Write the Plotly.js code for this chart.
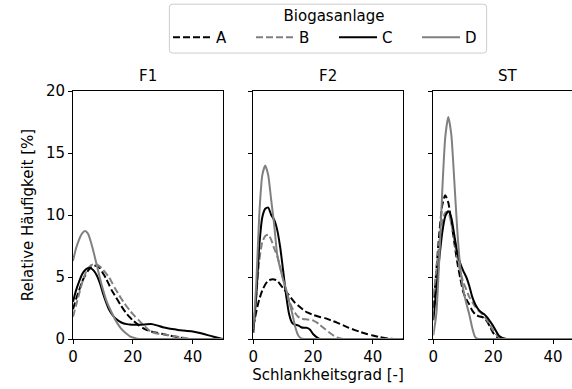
<!DOCTYPE html>
<html>
<head>
<meta charset="utf-8">
<script src="https://cdn.plot.ly/plotly-3.0.1.min.js"></script>
<style>
html,body{margin:0;padding:0;overflow:hidden;background:#fff;}
#chart{width:600px;height:389px;}
</style>
</head>
<body>
<div id="chart"></div>
<script>
// common x grid (Schlankheitsgrad)
const xGrid = [0,1,2,3,4,5,6,7,8,9,10,11,12,13,14,15,16,17,18,19,20,22,24,26,28,30,32,34,36,38,40,42,44,46,48,50];

const panels = ["F1", "F2", "ST"];
const seriesNames = ["A", "B", "C", "D"];

// F1
const F1_A = [2.4,3.2,3.9,4.6,5.1,5.5,5.8,5.9,5.9,5.7,5.3,4.9,4.4,3.9,3.5,3.1,2.7,2.35,2.0,1.75,1.5,1.1,0.8,0.62,0.5,0.4,0.3,0.2,0.1,0.03,0,0,0,0,0,0];
const F1_B = [1.8,2.7,3.6,4.5,5.2,5.7,5.95,6.05,6.0,5.85,5.6,5.3,5.0,4.55,4.1,3.7,3.3,2.95,2.6,2.3,2.0,1.5,1.0,0.6,0.45,0.38,0.3,0.22,0.13,0.05,0,0,0,0,0,0];
const F1_C = [3.0,3.9,4.6,5.2,5.55,5.7,5.7,5.5,5.1,4.5,3.7,3.0,2.4,2.0,1.7,1.5,1.35,1.25,1.2,1.17,1.15,1.15,1.17,1.2,1.1,0.95,0.85,0.78,0.7,0.65,0.6,0.5,0.38,0.25,0.12,0];
const F1_D = [6.3,7.3,8.0,8.5,8.7,8.5,7.8,6.9,5.9,4.9,4.0,3.2,2.6,2.1,1.6,1.2,0.85,0.6,0.4,0.22,0.12,0,0,0,0,0,0,0,0,0,0,0,0,0,0,0];

// F2
const F2_A = [1.0,2.2,3.2,3.9,4.4,4.7,4.8,4.8,4.7,4.4,4.1,3.8,3.5,3.2,2.9,2.7,2.5,2.3,2.15,2.05,1.95,1.8,1.68,1.5,1.32,1.12,0.9,0.72,0.55,0.4,0.28,0.17,0.08,0.03,0,0];
const F2_B = [0.8,3.5,6.3,7.8,8.3,8.4,8.0,7.3,6.7,5.8,4.8,3.9,3.1,2.5,2.1,1.8,1.65,1.6,1.58,1.55,1.5,1.2,0.8,0.42,0.12,0,0,0,0,0,0,0,0,0,0,0];
const F2_C = [0.5,3.5,7.5,9.8,10.5,10.6,10.0,9.6,8.8,7.4,5.5,3.5,2.0,1.3,1.15,1.1,0.95,0.9,0.9,0.75,0.4,0.03,0,0,0,0,0,0,0,0,0,0,0,0,0,0];
const F2_D = [0.8,4.5,10.0,13.2,14.0,13.2,11.2,9.2,6.8,5.7,4.8,4.0,3.0,2.1,1.0,0.3,0.05,0,0,0,0,0,0,0,0,0,0,0,0,0,0,0,0,0,0,0];

// ST
const ST_A = [2.5,5.5,8.5,10.8,11.6,11.0,9.5,7.8,6.2,4.9,3.8,3.2,2.8,2.3,2.0,1.85,1.8,1.7,1.4,0.95,0.5,0.03,0,0,0,0,0,0,0,0,0,0,0,0,0,0];
const ST_B = [3.5,5.5,7.8,9.5,10.2,10.2,9.3,8.0,6.6,5.4,4.6,4.0,3.4,3.0,2.6,2.3,2.1,1.85,1.5,1.1,0.7,0.12,0,0,0,0,0,0,0,0,0,0,0,0,0,0];
const ST_C = [1.5,4.0,6.5,8.6,9.9,10.3,9.8,8.4,7.0,6.1,5.5,5.0,4.3,3.4,2.8,2.4,2.15,2.0,1.75,1.4,1.05,0.25,0.02,0,0,0,0,0,0,0,0,0,0,0,0,0];
const ST_D = [0.3,2.0,6.5,12.0,16.3,17.9,16.5,12.8,8.8,5.8,4.0,2.9,2.0,0.9,0.15,0,0,0,0,0,0,0,0,0,0,0,0,0,0,0,0,0,0,0,0,0];

const panelData = {
  F1: [F1_A, F1_B, F1_C, F1_D],
  F2: [F2_A, F2_B, F2_C, F2_D],
  ST: [ST_A, ST_B, ST_C, ST_D]
};

const styles = [
  {color: "#000000", dash: "7px,3px"},
  {color: "#808080", dash: "7px,3px"},
  {color: "#000000", dash: "solid"},
  {color: "#808080", dash: "solid"}
];

const traces = [];
panels.forEach((p, pi) => {
  panelData[p].forEach((ys, si) => {
    traces.push({
      type: "scatter",
      mode: "lines",
      x: xGrid,
      y: ys,
      name: seriesNames[si],
      legendgroup: seriesNames[si],
      showlegend: pi === 0,
      xaxis: pi === 0 ? "x" : "x" + (pi + 1),
      yaxis: pi === 0 ? "y" : "y" + (pi + 1),
      line: {color: styles[si].color, dash: styles[si].dash, width: 2, shape: "spline", smoothing: 0.6},
      hoverinfo: "skip"
    });
  });
});

const font = {family: "DejaVu Sans, sans-serif", size: 15, color: "#000"};
const domains = [[0, 0.2935], [0.3535, 0.6465], [0.7065, 1.0]];

function xAxis(i) {
  const ax = {
    domain: domains[i], range: [0, 50], tickvals: [0, 20, 40], ticktext: ["0", "20", "40"],
    ticks: "outside", ticklen: 4, tickwidth: 1, tickcolor: "#000",
    showline: true, mirror: true, linecolor: "#000", linewidth: 1,
    showgrid: false, zeroline: false, tickfont: font, anchor: i === 0 ? "y" : "y" + (i + 1)
  };
  if (i === 1) ax.title = {text: "Schlankheitsgrad [-]", font: font, standoff: 4};
  return ax;
}
function yAxis(i) {
  const ax = {
    domain: [0, 1], range: [0, 20], tickvals: [0, 5, 10, 15, 20],
    ticks: "outside", ticklen: 4, tickwidth: 1, tickcolor: "#000",
    showline: true, mirror: true, linecolor: "#000", linewidth: 1,
    showgrid: false, zeroline: false, tickfont: font,
    showticklabels: i === 0, anchor: i === 0 ? "x" : "x" + (i + 1)
  };
  if (i === 0) ax.title = {text: "Relative Häufigkeit [%]", font: font, standoff: 8};
  return ax;
}

const annotations = panels.map((p, i) => ({
  text: p, xref: "paper", yref: "paper",
  x: (domains[i][0] + domains[i][1]) / 2, y: 1, xanchor: "center", yanchor: "bottom",
  yshift: 4, showarrow: false, font: font
}));

// legend frame (rounded) in paper coords
const lx0 = 0.189, lx1 = 0.811, ly0 = 1.153, ly1 = 1.350, rx = 0.006, ry = 0.012;
const framePath = `M ${lx0+rx} ${ly0} L ${lx1-rx} ${ly0} Q ${lx1} ${ly0} ${lx1} ${ly0+ry} L ${lx1} ${ly1-ry} Q ${lx1} ${ly1} ${lx1-rx} ${ly1} L ${lx0+rx} ${ly1} Q ${lx0} ${ly1} ${lx0} ${ly1-ry} L ${lx0} ${ly0+ry} Q ${lx0} ${ly0} ${lx0+rx} ${ly0} Z`;

const layout = {
  width: 600, height: 389,
  margin: {l: 73, r: 17, t: 91, b: 49.5, autoexpand: false},
  paper_bgcolor: "#fff", plot_bgcolor: "#fff",
  font: font,
  showlegend: true,
  legend: {
    orientation: "h", x: 0.1863, xanchor: "left", y: 1.361, yanchor: "top",
    title: {text: "Biogasanlage", side: "top center", font: font},
    font: font, itemwidth: 38, entrywidth: 30, entrywidthmode: "pixels",
    bgcolor: "rgba(0,0,0,0)", borderwidth: 0, tracegroupgap: 0
  },
  shapes: [{type: "path", xref: "paper", yref: "paper", path: framePath,
            line: {color: "#cccccc", width: 1}, fillcolor: "rgba(255,255,255,0.8)", layer: "below"}],
  annotations: annotations,
  xaxis: xAxis(0), xaxis2: xAxis(1), xaxis3: xAxis(2),
  yaxis: yAxis(0), yaxis2: yAxis(1), yaxis3: yAxis(2)
};

Plotly.newPlot("chart", traces, layout, {displayModeBar: false, staticPlot: true});
</script>
</body>
</html>
